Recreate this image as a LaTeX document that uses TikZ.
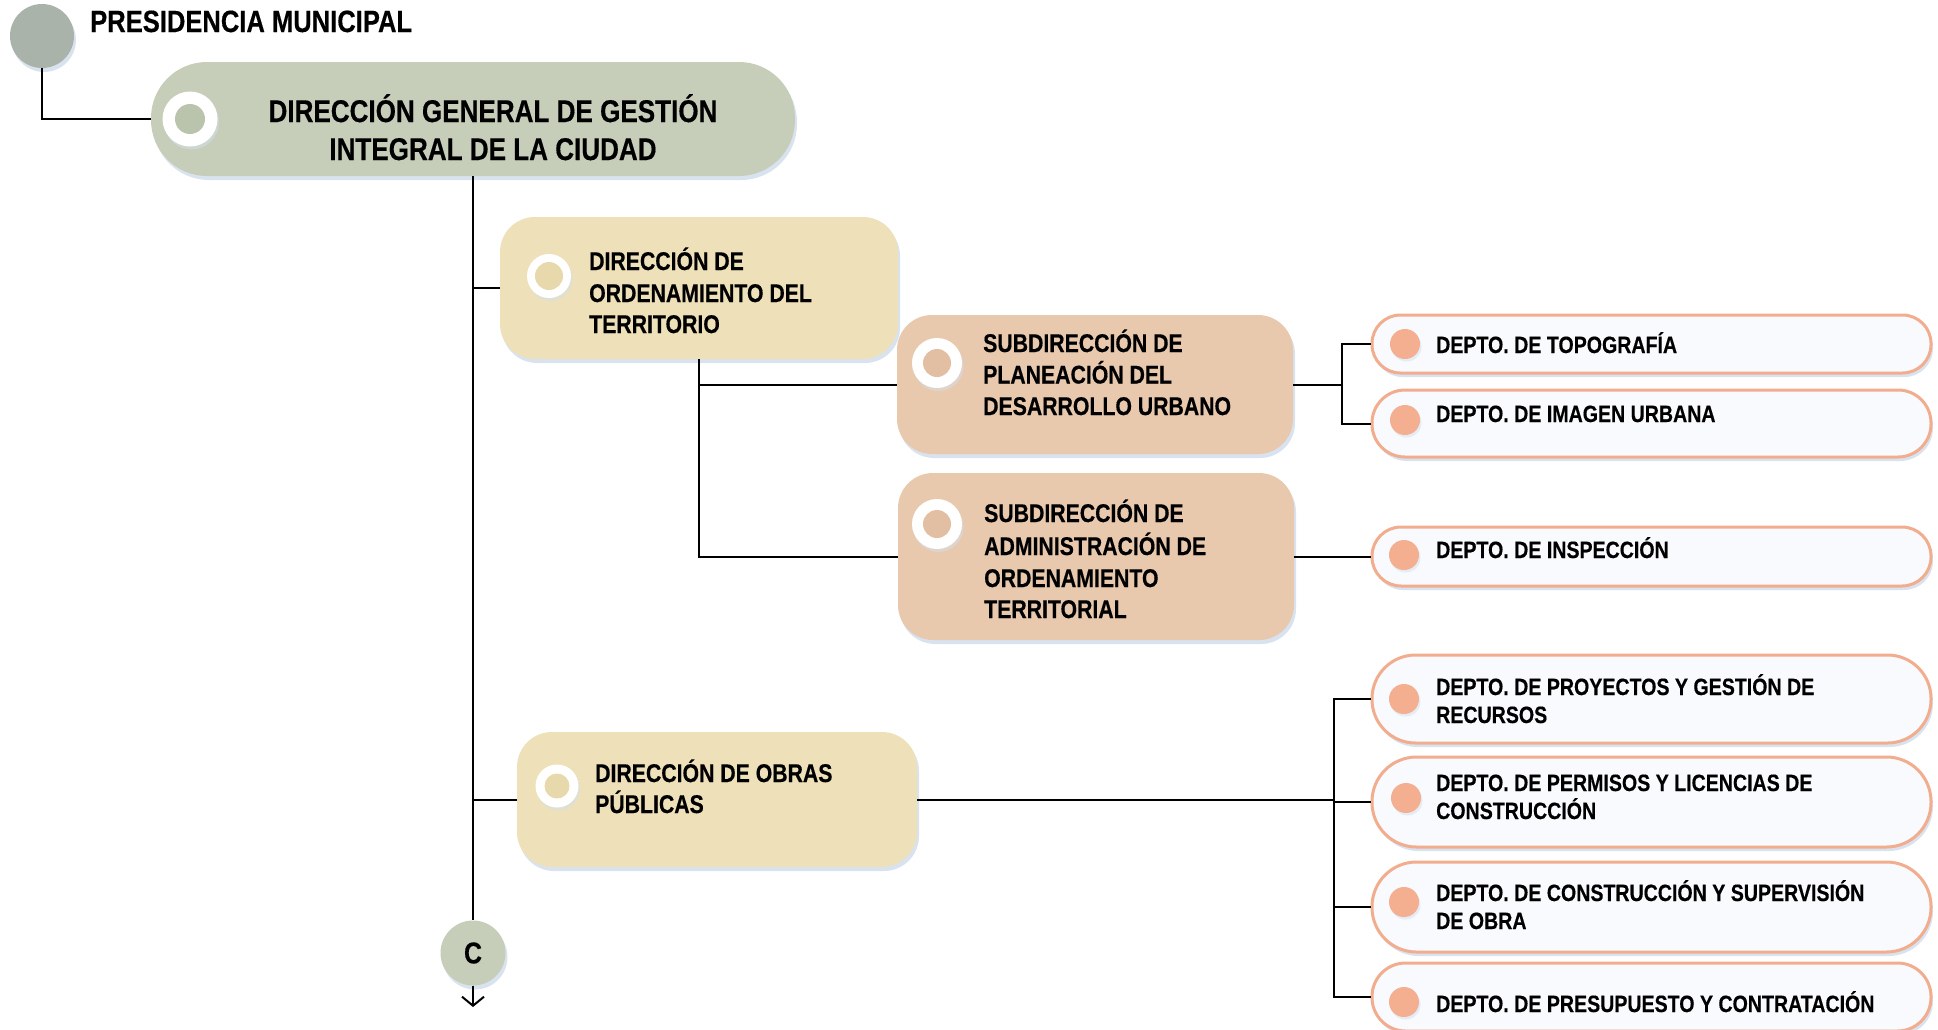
\documentclass[tikz,border=0pt]{standalone}
\usepackage{fontspec}
\setmainfont{Liberation Sans}[FakeStretch=0.83,BoldFeatures={FakeBold=0.4}]
\usetikzlibrary{shadows,arrows.meta}
\definecolor{presc}{HTML}{AAB3A9}
\definecolor{dgc}{HTML}{C6CDB8}
\definecolor{dgin}{HTML}{BAC3AC}
\definecolor{dirc}{HTML}{EEE0B8}
\definecolor{dirin}{HTML}{E8D9AD}
\definecolor{subc}{HTML}{E8C9AE}
\definecolor{subin}{HTML}{E2BFA3}
\definecolor{depfill}{HTML}{F8FAFD}
\definecolor{depline}{HTML}{F2AD8E}
\definecolor{depdot}{HTML}{F4AE90}
\definecolor{shadc}{HTML}{D3DFEE}
\tikzset{
  softshadow/.style={drop shadow={shadow xshift=2pt,shadow yshift=-4pt,fill=shadc,opacity=0.85}},
  boxbase/.style={draw=none,inner sep=0pt,softshadow},
  dirbox/.style={boxbase,fill=dirc,rounded corners=35pt},
  subbox/.style={boxbase,fill=subc,rounded corners=35pt},
  deptbox/.style={draw=depline,line width=3pt,fill=depfill,inner sep=0pt,minimum width=559pt,softshadow},
  ddot/.style={circle,fill=depdot,inner sep=0pt,minimum size=30pt,drop shadow={shadow xshift=1.5pt,shadow yshift=-2.5pt,fill=shadc}},
  ringout/.style={circle,fill=white,inner sep=0pt,drop shadow={shadow xshift=1.5pt,shadow yshift=-3pt,fill=shadc}},
  ringin/.style={circle,inner sep=0pt},
  conn/.style={draw=black,line width=2pt},
  lblbox/.style={anchor=base west,inner sep=0pt,font=\bfseries\fontsize{25.6}{30}\selectfont},
  lbldep/.style={anchor=base west,inner sep=0pt,font=\bfseries\fontsize{23.6}{28}\selectfont},
  lbltitle/.style={anchor=base,inner sep=0pt,font=\bfseries\fontsize{31.4}{38}\selectfont},
}
\begin{document}
\begin{tikzpicture}[x=1pt,y=-1pt]
\useasboundingbox[fill=white] (0,0) rectangle (1938,1029);

% Presidencia
\node[circle,fill=presc,minimum size=64pt,inner sep=0pt,softshadow] (pres) at (42,36) {};
\node[anchor=base west,inner sep=0pt,font=\bfseries\fontsize{30.8}{36}\selectfont] (tpres) at (90,32) {PRESIDENCIA MUNICIPAL};

% Direccion general
\node[boxbase,fill=dgc,minimum width=644pt,minimum height=114pt,rounded corners=56pt] (dg) at (473,119) {};
\node[ringout,minimum size=55pt] (dgr) at (190,119) {};
\node[ringin,fill=dgin,minimum size=30pt] (dgri) at (190,119) {};
\node[lbltitle] (tdg1) at (493,122) {DIRECCIÓN GENERAL DE GESTIÓN};
\node[lbltitle] (tdg2) at (493,160) {INTEGRAL DE LA CIUDAD};

% Direccion de ordenamiento del territorio
\node[dirbox,minimum width=398pt,minimum height=142pt] (dot) at (699,288) {};
\node[ringout,minimum size=44pt] (dotr) at (549,276) {};
\node[ringin,fill=dirin,minimum size=28pt] (dotri) at (549,276) {};
\node[lblbox] (tdot1) at (589,270) {DIRECCIÓN DE};
\node[lblbox] (tdot2) at (589,302) {ORDENAMIENTO DEL};
\node[lblbox] (tdot3) at (589,333) {TERRITORIO};

% Subdireccion de planeacion
\node[subbox,minimum width=396pt,minimum height=139pt] (spd) at (1095,384.5) {};
\node[ringout,minimum size=50pt] (spdr) at (937,363) {};
\node[ringin,fill=subin,minimum size=28pt] (spdri) at (937,363) {};
\node[lblbox] (tspd1) at (983,352) {SUBDIRECCIÓN DE};
\node[lblbox] (tspd2) at (983,383.5) {PLANEACIÓN DEL};
\node[lblbox] (tspd3) at (983,415) {DESARROLLO URBANO};

% Subdireccion de administracion
\node[subbox,minimum width=396pt,minimum height=167pt] (saot) at (1096,556.5) {};
\node[ringout,minimum size=50pt] (saotr) at (937,524) {};
\node[ringin,fill=subin,minimum size=28pt] (saotri) at (937,524) {};
\node[lblbox] (tsa1) at (984,522) {SUBDIRECCIÓN DE};
\node[lblbox] (tsa2) at (984,555) {ADMINISTRACIÓN DE};
\node[lblbox] (tsa3) at (984,587) {ORDENAMIENTO};
\node[lblbox] (tsa4) at (984,618) {TERRITORIAL};

% Direccion de obras publicas
\node[dirbox,minimum width=400pt,minimum height=135pt] (dop) at (717,799.5) {};
\node[ringout,minimum size=43pt] (dopr) at (557,786) {};
\node[ringin,fill=dirin,minimum size=25pt] (dopri) at (557,786) {};
\node[lblbox] (tdop1) at (595,782) {DIRECCIÓN DE OBRAS};
\node[lblbox] (tdop2) at (595,813) {PÚBLICAS};

% Departamentos
\node[deptbox,minimum height=58pt,rounded corners=28.5pt] (topo) at (1651.5,344) {};
\node[deptbox,minimum height=67pt,rounded corners=33pt] (imag) at (1651.5,423.5) {};
\node[deptbox,minimum height=59pt,rounded corners=29pt] (insp) at (1651.5,556.5) {};
\node[deptbox,minimum height=88pt,rounded corners=43.5pt] (proy) at (1651.5,699) {};
\node[deptbox,minimum height=90pt,rounded corners=44.5pt] (perm) at (1651.5,802) {};
\node[deptbox,minimum height=90pt,rounded corners=44.5pt] (cons) at (1651.5,907) {};
\node[deptbox,minimum height=68pt,rounded corners=33.5pt] (presu) at (1651.5,997) {};

\node[ddot] (dtopo) at (1405,344) {};
\node[ddot] (dimag) at (1405,420) {};
\node[ddot] (dinsp) at (1404,555) {};
\node[ddot] (dproy) at (1404,699) {};
\node[ddot] (dperm) at (1406,798) {};
\node[ddot] (dcons) at (1404,902) {};
\node[ddot] (dpresu) at (1404,1002) {};

\node[lbldep] (ttopo) at (1436,353) {DEPTO. DE TOPOGRAFÍA};
\node[lbldep] (timag) at (1436,422) {DEPTO. DE IMAGEN URBANA};
\node[lbldep] (tinsp) at (1436,558) {DEPTO. DE INSPECCIÓN};
\node[lbldep] (tproy1) at (1436,695) {DEPTO. DE PROYECTOS Y GESTIÓN DE};
\node[lbldep] (tproy2) at (1436,723) {RECURSOS};
\node[lbldep] (tperm1) at (1436,791) {DEPTO. DE PERMISOS Y LICENCIAS DE};
\node[lbldep] (tperm2) at (1436,819) {CONSTRUCCIÓN};
\node[lbldep] (tcons1) at (1436,901) {DEPTO. DE CONSTRUCCIÓN Y SUPERVISIÓN};
\node[lbldep] (tcons2) at (1436,929) {DE OBRA};
\node[lbldep] (tpresu) at (1436,1012) {DEPTO. DE PRESUPUESTO Y CONTRATACIÓN};

% Conector C
\node[circle,fill=dgc,minimum size=65pt,inner sep=0pt,softshadow,font=\bfseries\fontsize{30}{36}\selectfont] (cc) at (473,953) {C};
\coordinate (ccend) at (473,1007);

% Connectors
\coordinate (b1) at (1342,384.5);
\coordinate (b2) at (1334,799.5);
\draw[conn] (pres.south) |- (dg.west);
\draw[conn] (dg.south) -- (cc.north);
\draw[conn] (dg.south |- dot.west) -- (dot.west);
\draw[conn] (dg.south |- dop.west) -- (dop.west);
\draw[conn] (dot.south) |- (saot.west);
\draw[conn] (dot.south |- spd.west) -- (spd.west);
\draw[conn] (spd.east) -- (b1);
\draw[conn] (topo.west) -| (b1 |- topo.west) -- (b1 |- imag.west) -- (imag.west);
\draw[conn] (saot.east) -- (insp.west);
\draw[conn] (dop.east) -- (b2);
\draw[conn] (proy.west) -- (b2 |- proy.west) -- (b2 |- presu.west) -- (presu.west);
\draw[conn] (b2 |- perm.west) -- (perm.west);
\draw[conn] (b2 |- cons.west) -- (cons.west);
\draw[conn,-{Straight Barb[length=9pt,width=22pt,line width=2pt]}] (cc.south) -- (ccend);
\end{tikzpicture}
\end{document}
